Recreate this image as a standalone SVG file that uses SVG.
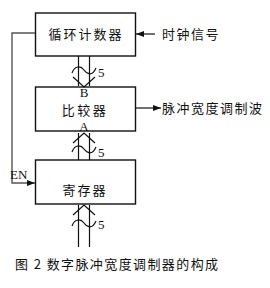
<svg xmlns="http://www.w3.org/2000/svg" width="270" height="288" viewBox="0 0 270 288">
<style>
.box{fill:#fff;stroke:#111;stroke-width:1.4}
.ln{fill:none;stroke:#111;stroke-width:1.2}
.cn{font-family:"Noto Sans CJK SC","Noto Sans",sans-serif;font-size:13px;fill:#111}
.lt{font-family:"Liberation Serif",serif;font-size:13px;fill:#111}
</style>
<defs>
<marker id="ah" markerWidth="8" markerHeight="6" refX="8" refY="3" orient="auto" markerUnits="userSpaceOnUse">
<path d="M0,0 L8,3 L0,6 Z" fill="#111"/>
</marker>
</defs>
<rect width="270" height="288" fill="#fff"/>
<g id="counter">
<rect class="box" x="35.5" y="13" width="100" height="43"/>
<text class="cn" x="86" y="39" text-anchor="middle" letter-spacing="2">循环计数器</text>
</g>
<g id="comparator">
<rect class="box" x="35.5" y="87" width="100" height="44"/>
<text class="lt" x="84" y="97" text-anchor="middle" font-size="11.5">B</text>
<text class="cn" x="85" y="114.5" text-anchor="middle" font-size="12.5" letter-spacing="2.5">比较器</text>
<text class="lt" x="84" y="131" text-anchor="middle" font-size="11.5">A</text>
</g>
<g id="register">
<rect class="box" x="35.5" y="160" width="100" height="44"/>
<text class="cn" x="85" y="195" text-anchor="middle" letter-spacing="2">寄存器</text>
</g>
<g id="clock">
<text class="cn" x="162" y="39" letter-spacing="1.5">时钟信号</text>
</g>
<g id="pwm">
<text class="cn" x="162" y="113" letter-spacing="1.5">脉冲宽度调制波</text>
</g>
<g id="connectors">
<path class="ln" d="M155,34 L136,34" marker-end="url(#ah)"/>
<path class="ln" d="M136,108 L161,108" marker-end="url(#ah)"/>
<path d="M35,33 L12,33 L12,183 L35,183" fill="none" stroke="#555" stroke-width="1.4" marker-end="url(#ah)"/>
<text class="lt" x="10" y="179" font-size="14">EN</text>
<!-- bus 1 -->
<path class="ln" d="M78.5,56 V86 M89.5,56 V86"/>
<path class="ln" d="M73,77 L84,87 L95,77"/>
<path class="ln" d="M72,73 C75,65 81,66 84,70 C87,74 92,77 96,68"/>
<text class="lt" x="98" y="77">5</text>
<!-- bus 2 -->
<path class="ln" d="M78.5,160 V133 M89.5,160 V133"/>
<path class="ln" d="M73,143 L84,133 L95,143"/>
<path class="ln" d="M72,152 C75,144 81,145 84,149 C87,153 92,156 96,147"/>
<text class="lt" x="98" y="157">5</text>
<!-- bus 3 -->
<path class="ln" d="M78.5,247 V205 M89.5,247 V205"/>
<path class="ln" d="M73,215 L84,205 L95,215"/>
<path class="ln" d="M72,226 C75,218 81,219 84,223 C87,227 92,230 96,221"/>
<text class="lt" x="98" y="229">5</text>
</g>
<text class="cn" x="15" y="269" font-size="12" letter-spacing="1.4">图 2 数字脉冲宽度调制器的构成</text>
</svg>
